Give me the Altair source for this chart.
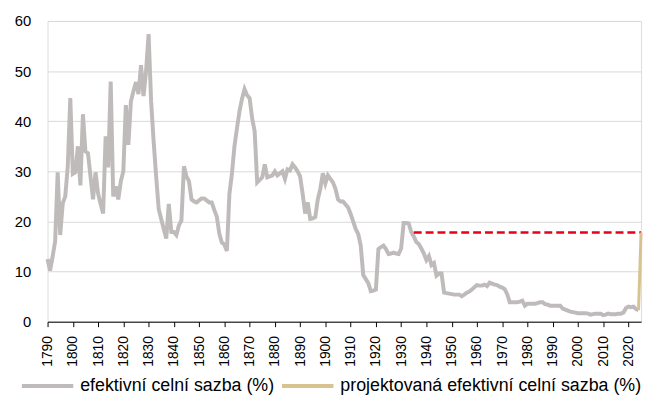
import altair as alt
import pandas as pd

first_year = 1790
tariff = [
    12.5, 10.2, 13.0, 16.0, 29.8, 17.3, 23.6, 25.0, 31.0, 44.6,
    29.5, 29.8, 35.0, 27.2, 41.4, 34.0, 33.6, 29.0, 24.4, 29.8,
    25.6, 23.5, 21.6, 37.0, 30.8, 47.9, 25.0, 27.0, 24.4, 28.0,
    30.0, 43.2, 35.3, 44.0, 46.0, 47.8, 45.4, 51.2, 45.0, 50.0,
    57.4, 44.0, 36.0, 29.0, 22.5, 20.5, 18.5, 16.6, 23.5, 17.9,
    17.9, 17.3, 19.2, 20.2, 31.0, 29.0, 28.0, 24.4, 24.0, 23.8,
    24.2, 24.6, 24.6, 24.2, 23.8, 23.8, 22.3, 21.0, 17.6, 15.8,
    15.4, 14.1, 25.5, 29.5, 35.0, 38.6, 42.0, 44.5, 46.4, 45.2,
    44.6, 40.6, 38.0, 27.8, 28.3, 28.8, 31.4, 28.8, 29.0, 29.2,
    30.0, 29.2, 29.6, 30.0, 28.5, 30.4, 30.2, 31.4, 30.8, 30.0,
    29.0, 25.5, 21.6, 23.8, 20.5, 20.6, 20.9, 24.4, 26.5, 29.6,
    27.6, 29.2, 28.5, 27.8, 26.5, 24.4, 24.0, 24.0, 23.4, 22.8,
    21.5, 20.0, 18.5, 17.5, 15.2, 9.3, 8.5, 7.7, 6.1, 6.2,
    6.4, 14.5, 14.9, 15.2, 14.5, 13.5, 13.6, 13.8, 13.6, 13.5,
    14.6, 19.7, 19.7, 19.6, 17.9, 17.0, 15.9, 15.5, 14.6, 13.6,
    12.3, 13.1, 11.3, 11.7, 9.2, 9.6, 9.6, 5.8, 5.7, 5.6,
    5.5, 5.4, 5.4, 5.4, 5.1, 5.4, 5.8, 6.0, 6.4, 6.9,
    7.3, 7.2, 7.2, 7.4, 7.1, 7.8, 7.6, 7.4, 7.3, 7.0,
    6.8, 6.5, 5.5, 3.9, 3.9, 3.9, 3.9, 4.0, 4.2, 3.2,
    3.6, 3.6, 3.6, 3.6, 3.7, 3.9, 3.9, 3.5, 3.4, 3.2,
    3.2, 3.2, 3.2, 3.2, 2.6, 2.4, 2.2, 2.0, 1.9, 1.8,
    1.7, 1.7, 1.7, 1.7, 1.6, 1.4, 1.5, 1.6, 1.6, 1.6,
    1.3, 1.4, 1.6, 1.5, 1.5, 1.5, 1.6, 1.6, 1.8, 2.7,
    3.0, 2.9, 3.0, 2.5, 2.3,
]
years = list(range(first_year, first_year + len(tariff)))

proj_years = [2024, 2025]
proj_values = [2.3, 17.8]

ref_years = [1935, 2025]
ref_value = 17.8

x_ticks = list(range(1790, 2021, 10))
y_ticks = [0, 10, 20, 30, 40, 50, 60]

s1 = "efektivní celní sazba (%)"
s2 = "projektovaná efektivní celní sazba (%)"

df_hist = pd.DataFrame({"year": years, "value": tariff, "series": s1})
df_proj = pd.DataFrame({"year": proj_years, "value": proj_values, "series": s2})
df_ref = pd.DataFrame({"year": [ref_years[0]], "year_end": [ref_years[1]], "value": [ref_value]})

FONT = "Liberation Sans"

xscale = alt.Scale(domain=[1790, 2025], nice=False, zero=False)
yscale = alt.Scale(domain=[0, 60], nice=False)

color = alt.Color(
    "series:N",
    scale=alt.Scale(domain=[s1, s2], range=["#BFBBBA", "#D8C290"]),
    legend=alt.Legend(
        title=None,
        orient="none",
        legendX=-28,
        legendY=360,
        direction="horizontal",
        symbolType="stroke",
        symbolSize=2704,
        symbolStrokeWidth=4,
        clipHeight=18,
        labelFontSize=18,
        labelFont=FONT,
        labelColor="#000000",
        labelOffset=5,
        columnPadding=5,
        labelLimit=500,
        padding=0,
    ),
)

x_axis = alt.Axis(
    values=x_ticks,
    format="d",
    labelAngle=270,
    labelFontSize=14,
    labelFont=FONT,
    labelColor="#000000",
    tickSize=5,
    tickColor="#000000",
    domainColor="#000000",
    labelPadding=9,
    grid=False,
    title=None,
    labelFlush=False,
    labelOverlap=False,
)
y_axis = alt.Axis(
    values=y_ticks,
    labelFontSize=15,
    labelFont=FONT,
    labelColor="#000000",
    domain=False,
    ticks=False,
    labelPadding=17,
    gridColor="#D9D9D9",
    gridWidth=1,
    title=None,
)
x_enc = alt.X("year:Q", scale=xscale, axis=x_axis)
y_enc = alt.Y("value:Q", scale=yscale, axis=y_axis)

hist = alt.Chart(df_hist).mark_line(strokeWidth=4).encode(x=x_enc, y=y_enc, color=color)
proj = alt.Chart(df_proj).mark_line(strokeWidth=3).encode(x=x_enc, y=y_enc, color=color)
ref = alt.Chart(df_ref).mark_rule(color="#E8001C", strokeWidth=2.5, strokeDash=[8, 4]).encode(
    x=x_enc, x2="year_end:Q", y=y_enc
)

chart = (
    alt.layer(hist, ref, proj)
    .properties(width=600, height=304, padding={"left": 6, "top": 4, "right": 0, "bottom": 0})
    .configure_view(stroke=None)
    .configure_axisX(labelOverlap=False)
    .configure(font=FONT)
)

chart.save("out.html", embed_options={"renderer": "svg", "actions": False})
